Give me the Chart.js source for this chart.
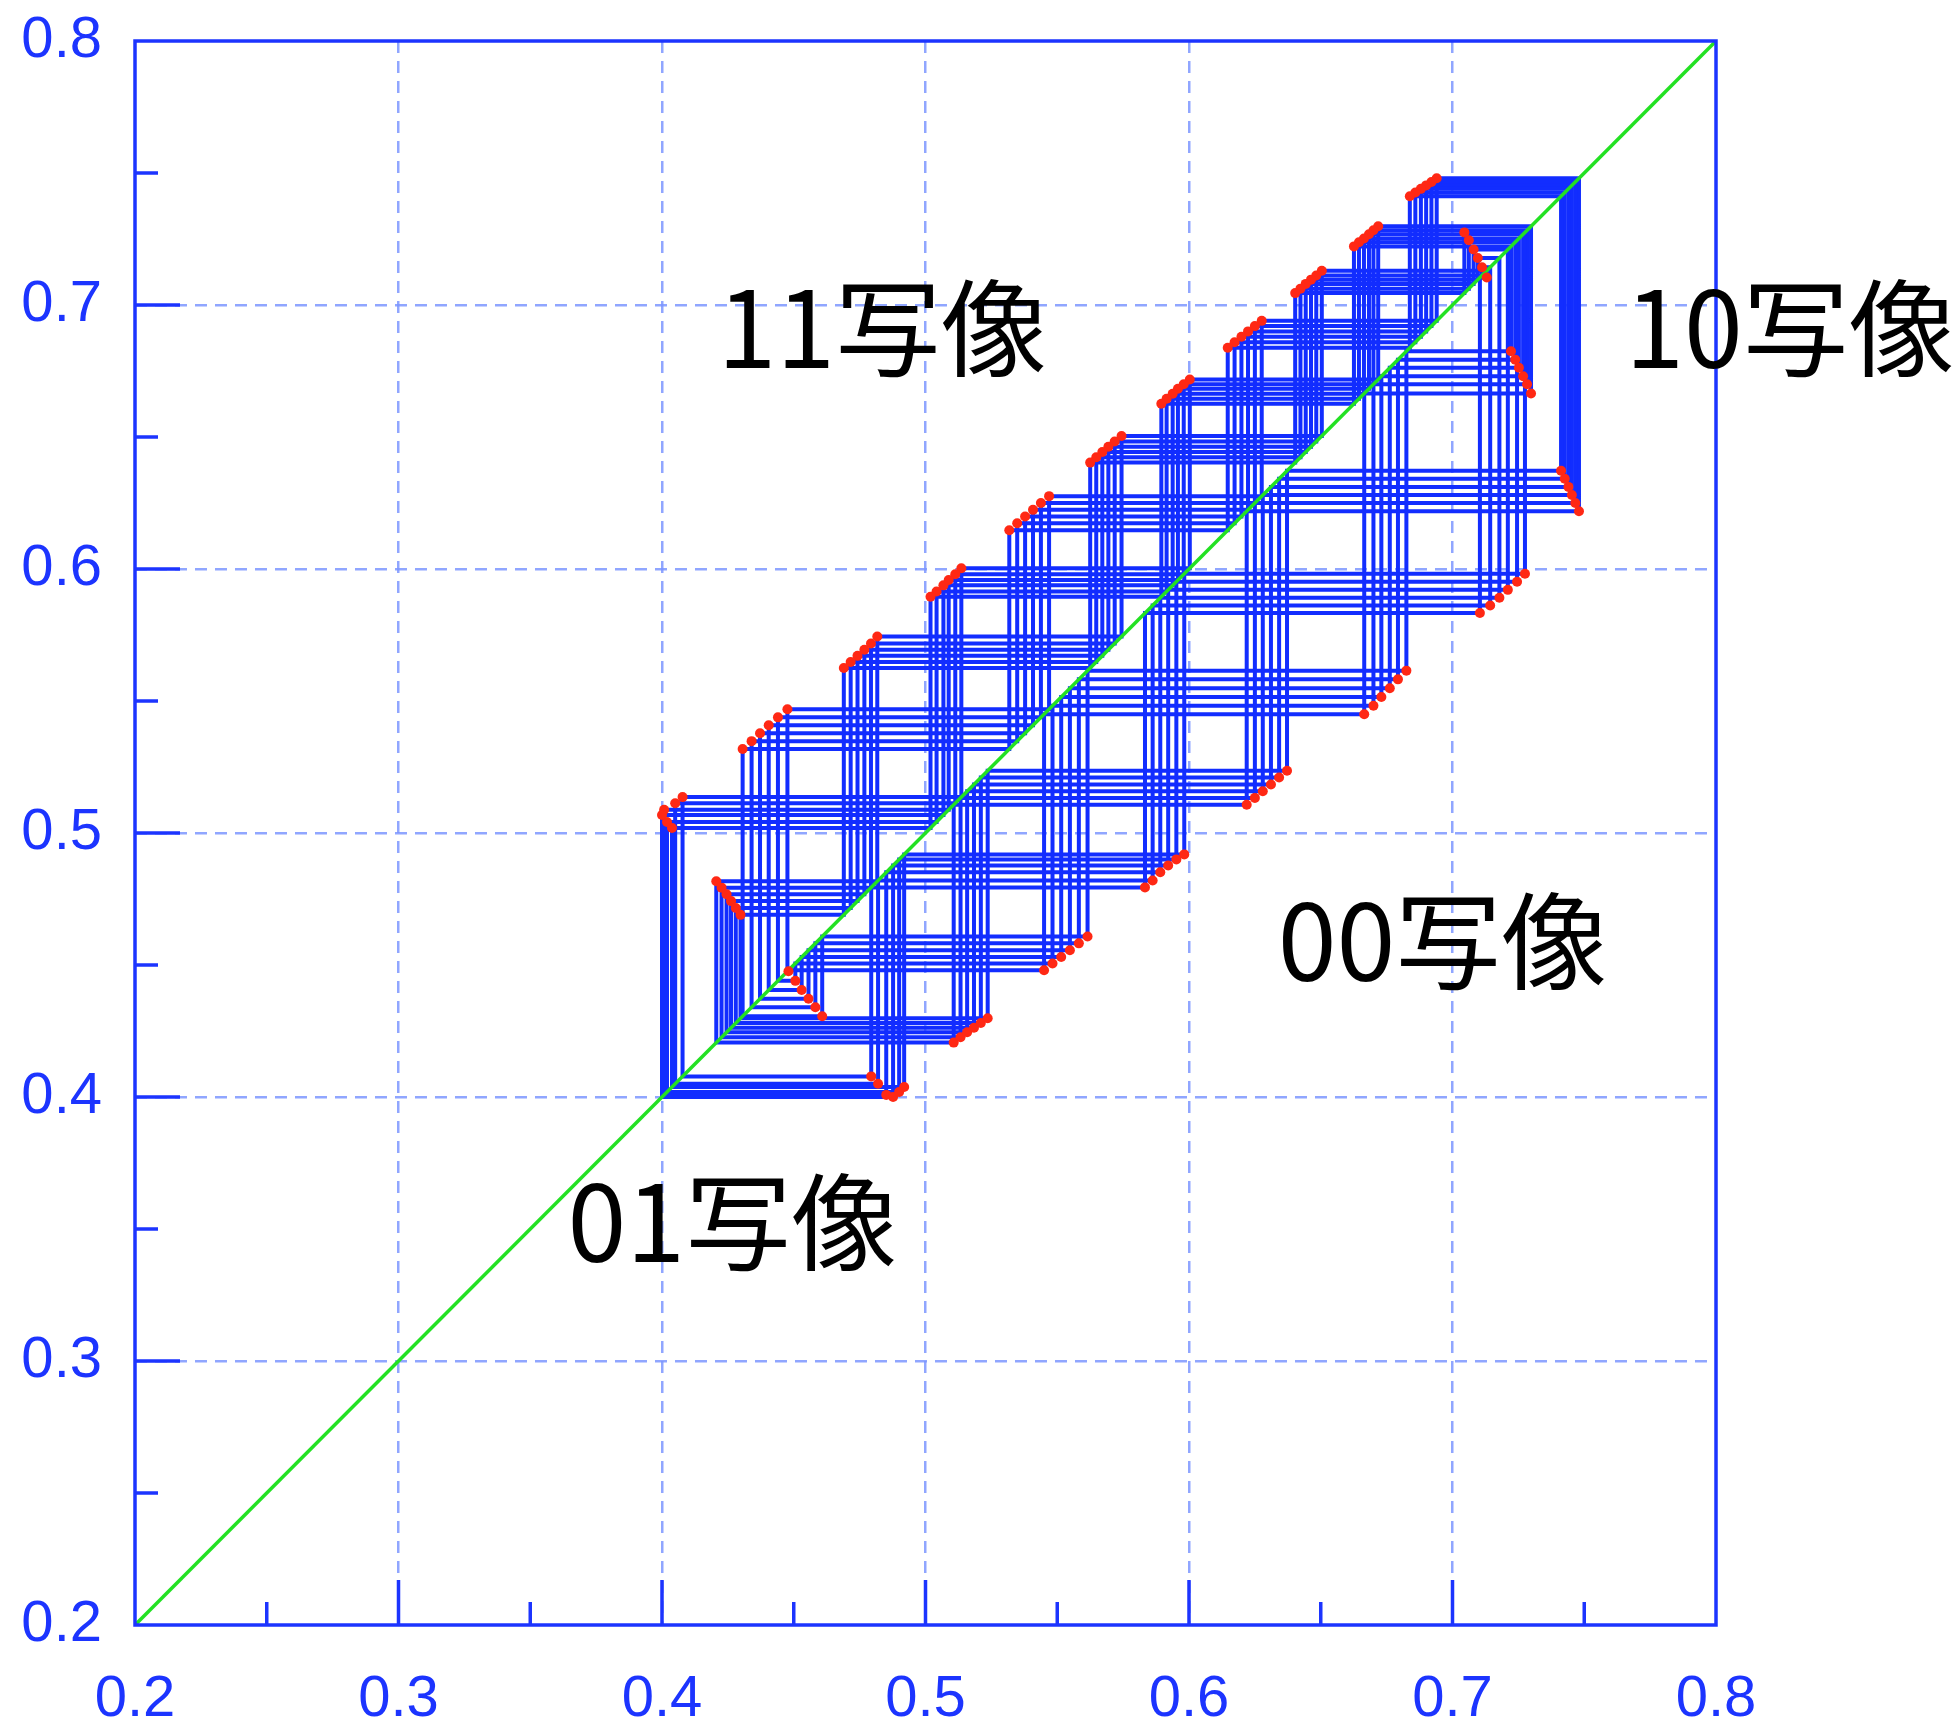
<!DOCTYPE html>
<html>
<head>
<meta charset="utf-8">
<script src="https://cdn.jsdelivr.net/npm/chart.js@4.4.1/dist/chart.umd.min.js"></script>
<style>
  html, body { margin: 0; padding: 0; background: #fff; }
</style>
</head>
<body>
<canvas id="cobweb" width="1960" height="1725"></canvas>
<script>
// axis ticks
const majorTicks = [0.2, 0.3, 0.4, 0.5, 0.6, 0.7, 0.8];
const minorTicks = [0.25, 0.35, 0.45, 0.55, 0.65, 0.75];

// six neighbouring orbits, 23 iterates each, cycling through the 11 / 10 / 00 / 01 maps
const orbitA = [0.4038, 0.5019, 0.5895, 0.6626, 0.7222, 0.6825, 0.5615, 0.4608, 0.4306, 0.5318, 0.6147, 0.6838, 0.7412, 0.6372, 0.5236, 0.4298, 0.4690, 0.5625, 0.6403, 0.7045, 0.7275, 0.5982, 0.4919];
const orbitB = [0.4019, 0.5042, 0.5915, 0.6645, 0.7238, 0.6793, 0.5582, 0.4582, 0.4340, 0.5348, 0.6173, 0.6859, 0.7426, 0.6342, 0.5210, 0.4280, 0.4716, 0.5648, 0.6423, 0.7062, 0.7245, 0.5952, 0.4900];
const orbitC = [0.4000, 0.5068, 0.5938, 0.6664, 0.7252, 0.6762, 0.5548, 0.4556, 0.4372, 0.5378, 0.6199, 0.6880, 0.7440, 0.6311, 0.5184, 0.4262, 0.4742, 0.5671, 0.6443, 0.7080, 0.7210, 0.5921, 0.4877];
const orbitD = [0.4008, 0.5088, 0.5958, 0.6683, 0.7268, 0.6730, 0.5515, 0.4530, 0.4405, 0.5408, 0.6224, 0.6900, 0.7453, 0.6280, 0.5158, 0.4245, 0.4768, 0.5694, 0.6463, 0.7096, 0.7178, 0.5891, 0.4851];
const orbitE = [0.4050, 0.5113, 0.5980, 0.6700, 0.7283, 0.6700, 0.5482, 0.4506, 0.4440, 0.5438, 0.6250, 0.6920, 0.7466, 0.6250, 0.5133, 0.4226, 0.4793, 0.5718, 0.6483, 0.7112, 0.7143, 0.5862, 0.4820];
const orbitF = [0.4078, 0.5136, 0.6003, 0.6718, 0.7298, 0.6665, 0.5450, 0.4480, 0.4476, 0.5469, 0.6276, 0.6940, 0.7480, 0.6219, 0.5107, 0.4206, 0.4817, 0.5744, 0.6504, 0.7130, 0.7104, 0.5833, 0.4794];
const orbits = [orbitA, orbitB, orbitC, orbitD, orbitE, orbitF];

// y = x reference line
const diagonal = [0.2, 0.8];

const mapNames = ['11写像', '10写像', '00写像', '01写像'];

const axisBlue = 'rgb(28, 52, 255)';
const gridBlue = 'rgba(125, 150, 255, 0.85)';
const webBlue = 'rgb(18, 45, 255)';

// (x0,x0) -> (x0,x1) -> (x1,x1) -> (x1,x2) ... closed back to the start
const cobwebPath = (orbit) => {
  const pts = [];
  orbit.forEach((x, i) => {
    const next = orbit[(i + 1) % orbit.length];
    pts.push({ x: x, y: x }, { x: x, y: next });
  });
  pts.push({ x: orbit[0], y: orbit[0] });
  return pts;
};

// points on the map graphs: (x_n, x_n+1)
const graphPoints = (orbit) =>
  orbit.map((x, i) => ({ x: x, y: orbit[(i + 1) % orbit.length] }));

// where the map names sit, in data units
const labelAnchors = [
  { x: 0.4836, y: 0.6913 },
  { x: 0.8281, y: 0.6913 },
  { x: 0.6962, y: 0.4591 },
  { x: 0.4267, y: 0.3527 },
];

const frameAndLabels = {
  id: 'frameAndLabels',
  afterDraw(chart) {
    const { ctx, chartArea: a, scales: { x, y } } = chart;
    ctx.save();
    ctx.strokeStyle = axisBlue;
    ctx.lineWidth = 3.5;
    ctx.beginPath();
    majorTicks.slice(1, -1).forEach((v) => {
      const px = x.getPixelForValue(v);
      ctx.moveTo(px, a.bottom);
      ctx.lineTo(px, a.bottom - 45);
      const py = y.getPixelForValue(v);
      ctx.moveTo(a.left, py);
      ctx.lineTo(a.left + 45, py);
    });
    minorTicks.forEach((v) => {
      const px = x.getPixelForValue(v);
      ctx.moveTo(px, a.bottom);
      ctx.lineTo(px, a.bottom - 23);
      const py = y.getPixelForValue(v);
      ctx.moveTo(a.left, py);
      ctx.lineTo(a.left + 23, py);
    });
    ctx.stroke();
    ctx.strokeRect(a.left, a.top, a.right - a.left, a.bottom - a.top);

    ctx.fillStyle = '#000';
    ctx.font = '106px "Noto Sans CJK JP"';
    ctx.textAlign = 'center';
    ctx.textBaseline = 'middle';
    mapNames.forEach((name, i) => {
      ctx.fillText(name, x.getPixelForValue(labelAnchors[i].x), y.getPixelForValue(labelAnchors[i].y));
    });
    ctx.restore();
  }
};

const tickFont = { family: 'Liberation Sans', size: 58 };

// the tick labels may spill past the plot edges; keep the plot box fixed
const noScalePadding = (scale) => {
  scale.paddingTop = 0;
  scale.paddingBottom = 0;
  scale.paddingLeft = 0;
  scale.paddingRight = 0;
};

const datasets = [];
// red graph points on top
orbits.forEach((orbit) => {
  datasets.push({
    data: graphPoints(orbit),
    showLine: false,
    pointRadius: 5,
    pointBackgroundColor: 'rgb(255, 40, 20)',
    pointBorderWidth: 0,
    order: 0
  });
});
datasets.push({
  data: diagonal.map((v) => ({ x: v, y: v })),
  showLine: true,
  borderColor: 'rgb(35, 225, 35)',
  borderWidth: 3.5,
  pointRadius: 0,
  order: 1
});
orbits.forEach((orbit) => {
  datasets.push({
    data: cobwebPath(orbit),
    showLine: true,
    borderColor: webBlue,
    borderWidth: 4,
    pointRadius: 0,
    order: 2
  });
});

new Chart(document.getElementById('cobweb'), {
  type: 'scatter',
  data: { datasets: datasets },
  plugins: [frameAndLabels],
  options: {
    responsive: false,
    animation: false,
    layout: { padding: { top: 41, right: 244, left: 0, bottom: 0 } },
    plugins: {
      legend: { display: false },
      tooltip: { enabled: false }
    },
    scales: {
      x: {
        type: 'linear',
        min: 0.2,
        max: 0.8,
        afterBuildTicks: (scale) => { scale.ticks = majorTicks.map((v) => ({ value: v })); },
        afterFit: (scale) => { scale.height = 100; noScalePadding(scale); },
        grid: {
          color: (c) => (c.tick && (c.tick.value === 0.2 || c.tick.value === 0.8)) ? 'rgba(0,0,0,0)' : gridBlue,
          lineWidth: 2.5,
          drawTicks: false
        },
        border: { display: false, dash: [12, 8] },
        ticks: {
          color: axisBlue,
          font: tickFont,
          padding: 40,
          maxRotation: 0,
          autoSkip: false,
          callback: (v) => v.toFixed(1)
        }
      },
      y: {
        type: 'linear',
        min: 0.2,
        max: 0.8,
        afterBuildTicks: (scale) => { scale.ticks = majorTicks.map((v) => ({ value: v })); },
        afterFit: (scale) => { scale.width = 135; noScalePadding(scale); },
        grid: {
          color: (c) => (c.tick && (c.tick.value === 0.2 || c.tick.value === 0.8)) ? 'rgba(0,0,0,0)' : gridBlue,
          lineWidth: 2.5,
          drawTicks: false
        },
        border: { display: false, dash: [12, 8] },
        ticks: {
          color: axisBlue,
          font: tickFont,
          padding: 33,
          autoSkip: false,
          callback: (v) => v.toFixed(1)
        }
      }
    }
  }
});
</script>
</body>
</html>
